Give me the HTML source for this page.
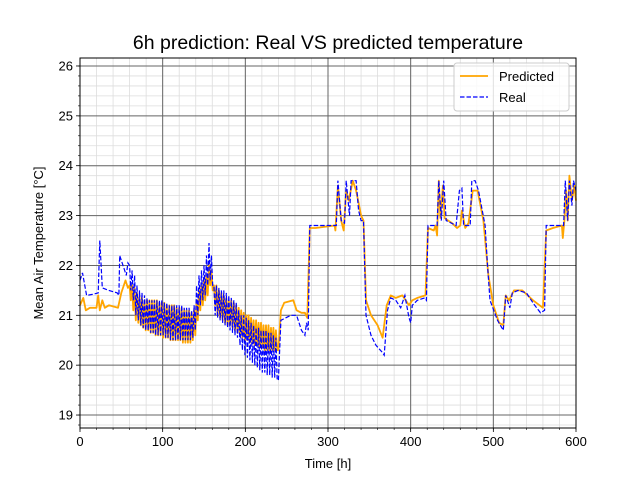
<!DOCTYPE html>
<html><head><meta charset="utf-8"><style>
body{margin:0;background:#fff}
svg{display:block;font-family:"Liberation Sans","DejaVu Sans",sans-serif}
</style></head><body>
<svg id="chart" width="640" height="480" viewBox="0 0 640 480">
<rect width="640" height="480" fill="#fff"/>
<text x="328" y="49" text-anchor="middle" font-size="19.5">6h prediction: Real VS predicted temperature</text>
<g id="grid"></g>
<g id="series"></g>
<rect x="80" y="58" width="496" height="370" fill="none" stroke="#000" stroke-width="1"/>
<g id="axes"></g>
<text x="328" y="468" text-anchor="middle" font-size="13">Time [h]</text>
<text transform="translate(43,243) rotate(-90)" text-anchor="middle" font-size="13">Mean Air Temperature [°C]</text>
<g>
<rect x="454" y="63" width="115" height="48" rx="3" fill="#fff" fill-opacity="0.8" stroke="#ccc"/>
<line x1="460" y1="76" x2="488" y2="76" stroke="orange" stroke-width="1.8"/>
<text x="499" y="81" font-size="13">Predicted</text>
<line x1="460" y1="97" x2="488" y2="97" stroke="blue" stroke-width="1.2" stroke-dasharray="4.5,2"/>
<text x="499" y="102" font-size="13">Real</text>
</g>
</svg>
<script>
const xTicks=[0,100,200,300,400,500,600];
const yTicks=[19,20,21,22,23,24,25,26];
const realPreT=[0,3,8,15,22,24,27,35,45,47,48,52,56,58];
const realPreV=[21.7,21.85,21.4,21.42,21.45,22.5,21.55,21.5,21.45,21.4,22.2,22.0,21.8,22.05];
const predPreT=[0,4,7,12,20,22,24,27,30,35,46,50,55,58];
const predPreV=[21.2,21.35,21.1,21.15,21.15,21.4,21.1,21.3,21.15,21.2,21.15,21.45,21.7,21.55];
const cycleT=[60,63,66,69,72,75,78,81,84,87,90,93,96,99,102,105,108,111,114,117,120,123,126,129,132,135,138,141,144,147,150,153,156,159,162,165,168,171,174,177,180,183,186,189,192,195,198,201,204,207,210,213,216,219,222,225,228,231,234,237];
const realHi=[22.0,21.9,21.8,21.6,21.5,21.45,21.4,21.35,21.3,21.3,21.3,21.3,21.3,21.3,21.25,21.25,21.2,21.2,21.2,21.2,21.2,21.2,21.15,21.15,21.15,21.1,21.2,21.6,21.8,21.9,22.0,22.2,22.45,22.2,21.6,21.6,21.55,21.5,21.5,21.45,21.4,21.35,21.3,21.25,21.1,21.0,21.0,20.95,20.9,20.85,20.8,20.75,20.75,20.7,20.7,20.7,20.65,20.65,20.6,20.55];
const realLo=[21.5,21.3,21.0,20.9,20.8,20.75,20.7,20.7,20.65,20.65,20.6,20.6,20.6,20.6,20.55,20.55,20.5,20.5,20.5,20.5,20.5,20.5,20.5,20.5,20.5,20.55,20.7,21.0,21.2,21.3,21.4,21.6,21.7,21.6,21.0,20.95,20.9,20.85,20.8,20.75,20.7,20.65,20.6,20.55,20.4,20.3,20.2,20.15,20.1,20.05,20.0,19.95,19.9,19.85,19.85,19.8,19.8,19.75,19.75,19.7];
const predHi=[21.6,21.6,21.55,21.45,21.4,21.35,21.3,21.3,21.3,21.3,21.3,21.3,21.25,21.25,21.25,21.2,21.2,21.2,21.2,21.15,21.15,21.15,21.1,21.1,21.1,21.05,21.1,21.3,21.5,21.6,21.7,21.8,22.0,21.9,21.6,21.6,21.5,21.45,21.4,21.35,21.3,21.3,21.25,21.2,21.15,21.1,21.05,21.0,21.0,20.95,20.9,20.9,20.85,20.85,20.8,20.8,20.8,20.75,20.75,20.7];
const predLo=[21.3,21.1,20.9,20.85,20.8,20.75,20.7,20.7,20.65,20.65,20.6,20.6,20.6,20.55,20.55,20.55,20.5,20.5,20.5,20.5,20.5,20.45,20.45,20.45,20.45,20.5,20.6,20.9,21.1,21.2,21.3,21.4,21.6,21.5,21.2,21.0,20.95,20.9,20.85,20.8,20.8,20.75,20.7,20.65,20.6,20.55,20.5,20.5,20.45,20.45,20.4,20.4,20.35,20.35,20.3,20.3,20.3,20.3,20.3,20.3];
const realPostT=[240,243,255,262,263,268,272,274,276,278,310,312,316,320,322,326,328,334,337,340,343,346,352,358,366,368,372,376,382,388,393,398,400,402,408,417,419,421,432,434,437,440,443,455,459,462,464,472,474,478,482,490,493,496,505,512,515,520,523,530,540,550,557,562,564,585,587,590,592,595,597,600];
const realPostV=[19.7,20.9,21.0,21.0,20.95,20.7,20.6,20.85,20.7,22.8,22.8,23.7,22.9,22.85,23.7,23.0,23.7,23.7,23.1,22.9,22.9,21.0,20.6,20.4,20.25,20.2,21.1,21.35,21.3,21.15,21.4,20.95,20.85,21.2,21.3,21.35,21.3,22.8,22.8,23.7,22.9,23.7,22.9,22.8,23.5,23.55,22.8,22.8,23.7,23.7,23.5,22.8,22.0,21.3,20.9,20.7,21.4,21.15,21.45,21.5,21.45,21.2,21.05,21.1,22.8,22.8,23.7,22.9,23.7,23.2,23.7,23.5];
const predPostT=[240,243,247,258,262,268,272,275,278,285,308,309,312,316,319,322,325,330,334,340,343,346,352,360,366,371,376,382,390,398,402,408,418,421,428,430,432,434,436,439,441,450,456,460,462,466,470,475,481,488,494,500,507,512,515,519,525,535,548,560,564,572,583,584,586,588,590,592,595,598,600];
const predPostV=[20.3,21.1,21.25,21.3,21.1,21.05,21.05,20.95,22.75,22.75,22.8,22.7,23.6,22.9,22.7,23.5,23.3,23.7,23.5,23.0,22.9,21.3,21.0,20.8,20.55,21.2,21.4,21.35,21.4,21.2,21.3,21.35,21.4,22.75,22.7,22.8,22.6,23.7,22.95,23.6,22.95,22.85,22.75,22.8,23.1,22.75,22.85,23.5,23.5,22.9,21.8,21.2,20.85,20.8,21.4,21.3,21.5,21.5,21.3,21.15,22.7,22.75,22.8,22.55,22.9,23.5,22.9,23.8,23.3,23.6,23.3];

const X0=80,X1=576,Y0=428,Y1=58,XMIN=0,XMAX=600,YMIN=18.74,YMAX=26.16;
function sx(t){return X0+(t-XMIN)/(XMAX-XMIN)*(X1-X0);}
function sy(v){return Y0-(v-YMIN)/(YMAX-YMIN)*(Y0-Y1);}
const NS="http://www.w3.org/2000/svg";
function mk(tag,attrs,parent){const e=document.createElementNS(NS,tag);for(const k in attrs)e.setAttribute(k,attrs[k]);parent.appendChild(e);return e;}
const grid=document.getElementById('grid'),axes=document.getElementById('axes'),series=document.getElementById('series');
for(let t=XMIN;t<=XMAX;t+=20){const l=mk('line',{x1:sx(t),x2:sx(t),y1:Y1,y2:Y0,stroke:'#ddd','stroke-width':0.8},grid);


const k=mk('line',{x1:sx(t),x2:sx(t),y1:Y0,y2:Y0+2,stroke:'#000','stroke-width':0.6},axes);

}
for(let i=0;i<=40;i++){const v=18.8+i*0.2;if(v>YMAX)break;const l=mk('line',{x1:X0,x2:X1,y1:sy(v),y2:sy(v),stroke:'#ddd','stroke-width':0.8},grid);


const k=mk('line',{x1:X0-2,x2:X0,y1:sy(v),y2:sy(v),stroke:'#000','stroke-width':0.6},axes);

}
xTicks.forEach(t=>{const l=mk('line',{x1:sx(t),x2:sx(t),y1:Y1,y2:Y0,stroke:'#666','stroke-width':1},grid);


const k=mk('line',{x1:sx(t),x2:sx(t),y1:Y0,y2:Y0+4,stroke:'#000','stroke-width':0.8},axes);


const tx=mk('text',{x:sx(t),y:Y0+18,'text-anchor':'middle','font-size':13},axes);tx.textContent=t;

});
yTicks.forEach(v=>{const l=mk('line',{x1:X0,x2:X1,y1:sy(v),y2:sy(v),stroke:'#666','stroke-width':1},grid);


const k=mk('line',{x1:X0-4,x2:X0,y1:sy(v),y2:sy(v),stroke:'#000','stroke-width':0.8},axes);


const tx=mk('text',{x:X0-7,y:sy(v)+4.5,'text-anchor':'end','font-size':13},axes);tx.textContent=v;

});
function build(preT,preV,hi,lo,postT,postV){const pts=[];
preT.forEach((t,i)=>pts.push([t,preV[i]]));
cycleT.forEach((t,i)=>{pts.push([t,hi[i]]);pts.push([t+1.5,lo[i]]);});
postT.forEach((t,i)=>pts.push([t,postV[i]]));
return pts.map(p=>sx(p[0]).toFixed(1)+','+sy(p[1]).toFixed(1)).join(' ');}
const pl=mk('polyline',{points:build(predPreT,predPreV,predHi,predLo,predPostT,predPostV),fill:'none',stroke:'orange','stroke-width':1.8,'stroke-linejoin':'round'},series);


const rl=mk('polyline',{points:build(realPreT,realPreV,realHi,realLo,realPostT,realPostV),fill:'none',stroke:'blue','stroke-width':1.2,'stroke-dasharray':'4.5,2'},series);


</script>
</body></html>
